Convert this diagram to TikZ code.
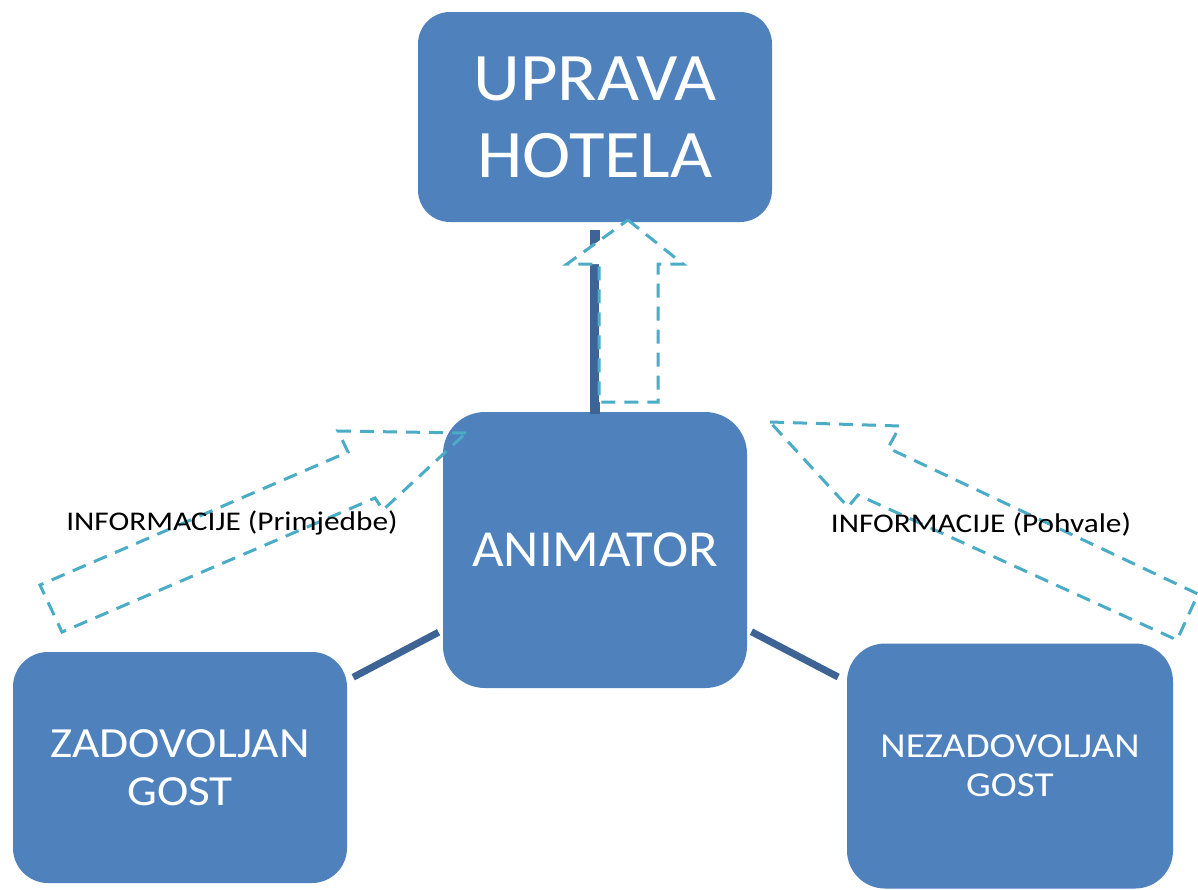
\documentclass[tikz,border=0pt]{standalone}
\usepackage{fontspec}
\setmainfont{Carlito}
\newfontfamily\fupr[FakeStretch=1.07]{Carlito}
\newfontfamily\fani[FakeStretch=1.05]{Carlito}
\newfontfamily\fzad[FakeStretch=1.10]{Carlito}
\newfontfamily\fnez[FakeStretch=1.12]{Carlito}
\newfontfamily\flab[FakeStretch=1.16]{Carlito}
\definecolor{boxblue}{HTML}{4F81BD}
\definecolor{linkblue}{HTML}{3D6495}
\definecolor{dashcyan}{HTML}{4BACC6}
\begin{document}
\begin{tikzpicture}[x=1pt,y=-1pt,
  box/.style={fill=boxblue, inner sep=0pt, outer sep=0pt, text=white, align=center},
  link/.style={draw=linkblue, line width=7pt},
  flow/.style={draw=dashcyan, line width=3pt, dash pattern=on 14pt off 9pt, line join=miter},
  lbl/.style={text=black, inner sep=0pt, anchor=base, font=\fontsize{27}{30}\flab}]
\useasboundingbox[fill=white] (0,0) rectangle (1198,889);

% boxes
\node[box, rounded corners=32pt, minimum width=354pt, minimum height=210pt,
  font=\fontsize{68}{77}\fupr] (upr) at (595,117) {UPRAVA\\HOTELA};
\node[box, rounded corners=42pt, minimum width=304pt, minimum height=276pt,
  font=\fontsize{52}{60}\fani] (anim) at (595,550) {ANIMATOR};
\node[box, rounded corners=35pt, minimum width=334pt, minimum height=231pt,
  font=\fontsize{43}{48}\fzad] (zad) at (180,767.5) {ZADOVOLJAN\\GOST};
\node[box, rounded corners=38pt, minimum width=326pt, minimum height=245pt,
  font=\fontsize{35}{39}\fnez] (nez) at (1010,766) {NEZADOVOLJAN\\GOST};

% connectors
\draw[link, line width=10pt, shorten <=-2pt, shorten >=8pt] (anim) -- (upr);
\draw[link, shorten <=5pt, shorten >=7pt] (anim) -- (zad);
\draw[link, shorten <=5pt, shorten >=10pt] (anim) -- (nez);

% block arrows (dashed outlines)
\draw[flow, fill=white] (628,220) -- (683,264) -- (658,264) -- (658,402)
  -- (599,402) -- (599,264) -- (567,264) -- cycle;
\draw[flow] (466,433) -- (338,431) -- (348,452) -- (40,585) -- (62,632)
  -- (375,498) -- (383,510) -- cycle;
\draw[flow] (770,422) -- (900,426) -- (888,448) -- (1198,594) -- (1177,640)
  -- (858,495) -- (848,507) -- cycle;

% labels
\node[lbl] (lab1) at (232,530) {INFORMACIJE (Primjedbe)};
\node[lbl] (lab2) at (981,532) {INFORMACIJE (Pohvale)};
\end{tikzpicture}
\end{document}
